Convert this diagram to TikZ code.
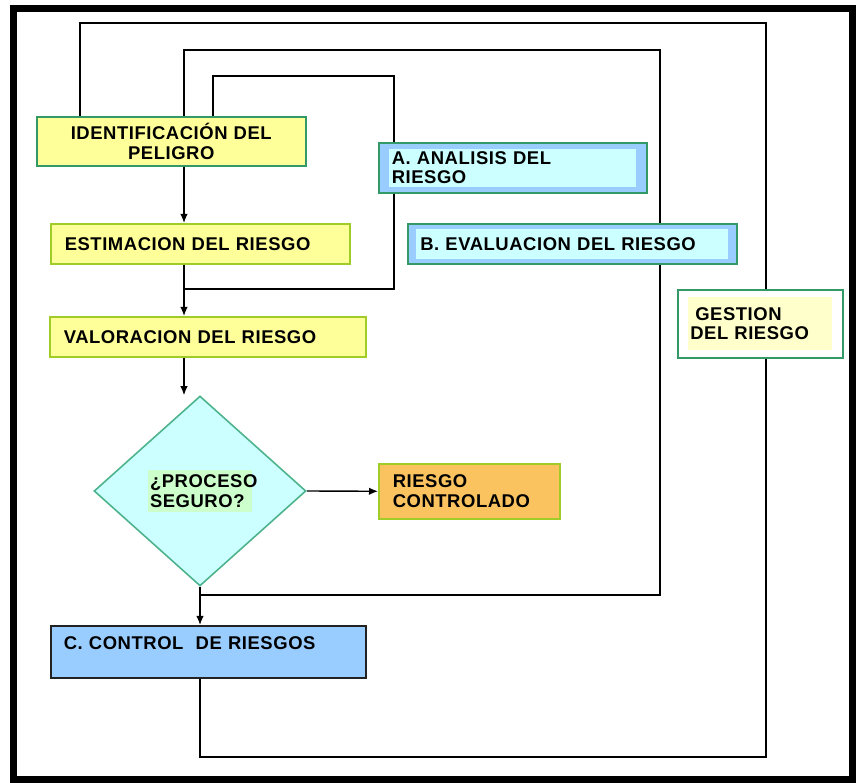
\documentclass[tikz,border=0pt]{standalone}
\usepackage{fontspec}
\setmainfont{Liberation Sans}[LetterSpace=3]
\usetikzlibrary{shapes.geometric,arrows.meta,backgrounds}
\definecolor{boxyellow}{HTML}{FFFF99}
\definecolor{limegreen}{HTML}{A0CC28}
\definecolor{tealgreen}{HTML}{339966}
\definecolor{skyblue}{HTML}{99CCFF}
\definecolor{palecyan}{HTML}{CCFFFF}
\definecolor{paleyellow}{HTML}{FFFFCC}
\definecolor{palegreen}{HTML}{CCFFCC}
\definecolor{diamgreen}{HTML}{4DB38C}
\definecolor{boxorange}{HTML}{FAC35F}
\definecolor{darkline}{HTML}{222222}
\begin{document}
\begin{tikzpicture}[
  x=0.02cm, y=-0.02cm,
  every node/.style={font=\fontsize{10.5}{11.2}\selectfont\bfseries, inner sep=0pt},
  ybox/.style={draw=limegreen, fill=boxyellow, line width=0.9pt, anchor=north west, align=left, inner xsep=0.28cm},
  bbox/.style={draw=tealgreen, fill=skyblue, line width=0.9pt, anchor=north west},
  ctext/.style={fill=palecyan, align=left, inner xsep=0.05cm},
  arrow/.style={-{Latex[length=1.8mm,width=1.5mm]}, line width=0.8pt},
  wire/.style={line width=0.8pt}
]
\useasboundingbox (0,0) rectangle (856,783);
% etapas del lado izquierdo
\node[ybox, draw=tealgreen, align=center, text width=5.18cm, inner xsep=0.1cm, minimum height=0.98cm] (ident) at (36,116) {IDENTIFICACIÓN DEL\\PELIGRO};
\node[ybox, text width=5.42cm, minimum height=0.8cm] (estim) at (50,223) {ESTIMACION DEL RIESGO};
\node[ybox, text width=5.76cm, minimum height=0.8cm] (valor) at (49,316) {VALORACION DEL RIESGO};
\node[diamond, draw=diamgreen, fill=palecyan, line width=0.9pt, minimum width=4.24cm, minimum height=3.8cm] (dec) at (200,491) {};
\node[fill=palegreen, align=left, text width=2.0cm, inner xsep=0.04cm, minimum height=0.84cm] (dectxt) at (dec.center) {¿PROCESO\\SEGURO?};
\node[ybox, fill=boxorange, text width=3.06cm, minimum height=1.1cm] (risk) at (378,463) {RIESGO\\CONTROLADO};
\node[draw=darkline, fill=skyblue, line width=0.9pt, anchor=north west, align=left, text width=5.78cm, inner xsep=0.26cm, inner ysep=0.2cm, text height=0.27cm, text depth=0.37cm] (ctrl) at (50,625) {C. CONTROL\ \ DE RIESGOS};
% etiquetas de los lazos
\node[bbox, minimum width=5.36cm, minimum height=1.0cm] (ana) at (378,142) {};
\node[ctext, text width=4.84cm, minimum height=0.76cm] (anatxt) at (ana.center) {A. ANALISIS DEL\\RIESGO};
\node[bbox, minimum width=6.58cm, minimum height=0.8cm] (bev) at (407,223) {};
\node[ctext, text width=6.08cm, minimum height=0.6cm, inner xsep=0.08cm] (bevtxt) at (bev.center) {B. EVALUACION DEL RIESGO};
\node[draw=tealgreen, fill=white, line width=0.9pt, anchor=north west, minimum width=3.3cm, minimum height=1.36cm] (gest) at (677,289) {};
\node[fill=paleyellow, align=left, text width=2.8cm, inner xsep=0.04cm, minimum height=1.06cm] (gesttxt) at (gest.center) {\hspace{0.1cm}GESTION\\DEL RIESGO};
% esquinas de los lazos
\coordinate (spine) at (184,0);
\coordinate (outL) at (80,23);
\coordinate (outR) at (766,23);
\coordinate (outB) at (766,757);
\coordinate (midL) at (184,50);
\coordinate (midR) at (660,50);
\coordinate (midB) at (660,595);
\coordinate (inL) at (213,76);
\coordinate (inR) at (394,76);
\coordinate (inB) at (394,289);
\begin{scope}[on background layer]
\draw[wire] (ident.north -| outL) -- (outL) -- (outR) -- (outB) -- (outB -| dec.south) -- (ctrl.south -| dec.south);
\draw[wire] (ident.north -| midL) -- (midL) -- (midR) -- (midB) -- (midB -| dec.south);
\draw[wire] (ident.north -| inL) -- (inL) -- (inR) -- (ana.north -| inR);
\draw[wire] (ana.south -| inB) -- (inB) -- (inB -| spine);
\end{scope}
\draw[arrow] (ident.south -| spine) -- (estim.north -| spine);
\draw[arrow] (estim.south -| spine) -- (valor.north -| spine);
\draw[arrow] (valor.south -| spine) -- (dec.north -| spine);
\draw[arrow] (dec.east) -- (risk.west);
\draw[arrow] (dec.south) -- (ctrl.north -| dec.south);
% marco
\draw[line width=0.14cm] (13.5,8.5) rectangle (852.5,779.5);
\end{tikzpicture}
\end{document}
